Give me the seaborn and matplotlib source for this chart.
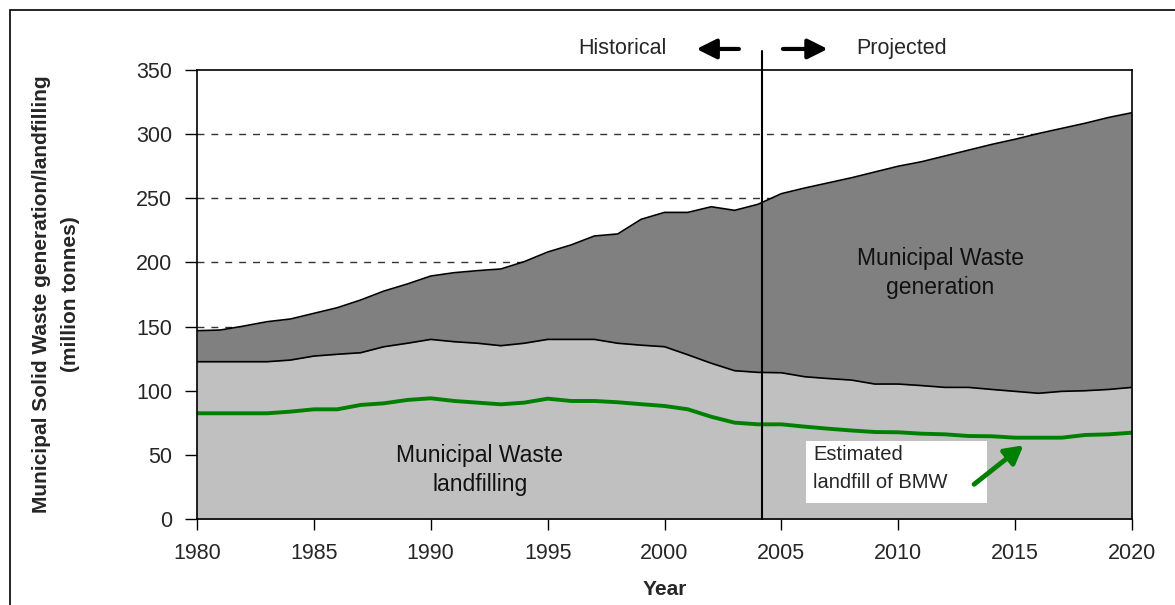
import numpy as np
import pandas as pd
import matplotlib.pyplot as plt
import seaborn as sns
from matplotlib.patches import Rectangle

# Data (million tonnes)
years = list(range(1980, 2021))
generation = [146.8, 147.3, 150.4, 153.8, 155.9, 160.3, 164.7, 170.7, 177.7, 183.2,
              189.4, 192.0, 193.6, 194.9, 200.6, 208.1, 213.6, 220.6, 222.2, 233.6,
              239.0, 239.0, 243.4, 240.6, 245.3, 253.6, 258.0, 262.0, 266.0, 270.5,
              275.0, 278.5, 283.0, 287.5, 292.0, 296.0, 300.5, 304.5, 308.5, 313.0, 316.7]
landfilling = [122.6, 122.6, 122.6, 122.6, 123.9, 127.0, 128.4, 129.6, 134.3, 137.0,
               140.0, 138.2, 137.0, 135.1, 137.0, 140.0, 140.0, 140.0, 137.0, 135.5,
               134.3, 128.0, 121.4, 115.6, 114.3, 114.0, 110.9, 109.5, 108.3, 105.2,
               105.2, 104.0, 102.6, 102.6, 101.0, 99.5, 98.0, 99.5, 100.0, 101.0, 102.6]
bmw_landfill = [82.4, 82.4, 82.4, 82.4, 83.7, 85.5, 85.5, 88.9, 90.2, 92.8,
                94.1, 92.0, 90.7, 89.4, 90.7, 93.8, 92.0, 92.0, 91.0, 89.5,
                88.1, 85.5, 79.7, 75.1, 73.8, 73.8, 72.0, 70.4, 69.0, 67.8,
                67.6, 66.5, 66.0, 64.7, 64.5, 63.4, 63.4, 63.4, 65.5, 66.0, 67.3]
grid_levels = [50, 100, 150, 200, 250, 300]
split_year = 2004.17

df = pd.DataFrame({'Year': years, 'Generation': generation,
                   'Landfilling': landfilling, 'BMW': bmw_landfill})

sns.set_theme(style="white")
plt.rcParams['font.family'] = ['Liberation Sans', 'DejaVu Sans']

fig = plt.figure(figsize=(11.75, 6.05), dpi=100)
ax = fig.add_axes([197 / 1175, 86 / 605, 935 / 1175, 449 / 605])

# figure border (only left and top edges fall inside the image)
fig.patches.append(Rectangle((10 / 1175, -0.05), 1.2, (605 - 10) / 605 + 0.05,
                             transform=fig.transFigure, fill=False,
                             edgecolor='black', linewidth=1.2))

# dashed gridlines behind the areas
for lvl in grid_levels:
    ax.axhline(lvl, color='#333333', linestyle=(0, (5, 5)), linewidth=1, zorder=1)

# areas
ax.fill_between(df['Year'], 0, df['Generation'], color='#808080', zorder=2, linewidth=0)
ax.fill_between(df['Year'], 0, df['Landfilling'], color='#c0c0c0', zorder=3, linewidth=0)
sns.lineplot(data=df, x='Year', y='Generation', color='black', linewidth=1.2, ax=ax, zorder=4)
sns.lineplot(data=df, x='Year', y='Landfilling', color='black', linewidth=1.2, ax=ax, zorder=4)
sns.lineplot(data=df, x='Year', y='BMW', color='#008000', linewidth=2.8, ax=ax, zorder=5)

ax.set_xlim(1980, 2020)
ax.set_ylim(0, 350)
ax.set_xticks(range(1980, 2021, 5))
ax.set_yticks(range(0, 351, 50))
ax.tick_params(axis='x', direction='out', length=8, width=1, color='black',
               labelsize=15.5, pad=9, bottom=True)
ax.tick_params(axis='y', direction='out', length=9, width=1, color='black',
               labelsize=15.5, pad=9, left=True)
for s in ax.spines.values():
    s.set_color('black')
    s.set_linewidth(1.2)
    s.set_zorder(6)
ax.grid(False)

ax.set_xlabel('Year', fontsize=15, fontweight='bold', labelpad=12)
ax.set_ylabel('Municipal Solid Waste generation/landfilling\n(million tonnes)',
              fontsize=15, fontweight='bold', labelpad=40, linespacing=1.65)

# historical / projected split
ax.plot([split_year, split_year], [0, 364.8], color='black', linewidth=1.5,
        clip_on=False, zorder=6)
ax.annotate('', xy=(2001.25, 366.4), xytext=(2003.3, 366.4), annotation_clip=False,
            arrowprops=dict(arrowstyle='-|>,head_length=1.0,head_width=0.5',
                            color='black', lw=3))
ax.annotate('', xy=(2007.1, 366.4), xytext=(2004.95, 366.4), annotation_clip=False,
            arrowprops=dict(arrowstyle='-|>,head_length=1.0,head_width=0.5',
                            color='black', lw=3))
ax.text(2000.1, 366.4, 'Historical', ha='right', va='center', fontsize=15.5, clip_on=False)
ax.text(2008.2, 366.4, 'Projected', ha='left', va='center', fontsize=15.5, clip_on=False)

# area labels
ax.text(1992.1, 38.2, 'Municipal Waste\nlandfilling', ha='center', va='center',
        fontsize=16.5, linespacing=1.3, color='#111111', zorder=7)
ax.text(2011.8, 191.8, 'Municipal Waste\ngeneration', ha='center', va='center',
        fontsize=16.5, linespacing=1.3, color='#111111', zorder=7)

# BMW annotation
ax.add_patch(Rectangle((2006.05, 12.5), 7.75, 48.3, facecolor='white',
                       edgecolor='none', zorder=7))
ax.text(2006.35, 50.2, 'Estimated', ha='left', va='center', fontsize=14.5, zorder=8)
ax.text(2006.35, 28.1, 'landfill of BMW', ha='left', va='center', fontsize=14.5, zorder=8)
ax.annotate('', xy=(2015.45, 58.8), xytext=(2013.15, 25.7), zorder=8,
            arrowprops=dict(arrowstyle='-|>,head_length=0.9,head_width=0.5',
                            color='#008000', lw=3.5))

fig.savefig('out.png', dpi=100)
